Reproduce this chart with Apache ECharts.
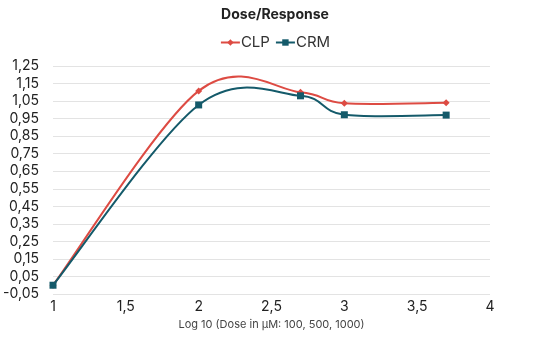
<!DOCTYPE html>
<html><head><meta charset="utf-8">
<script src="https://cdn.jsdelivr.net/npm/echarts@6/dist/echarts.min.js"></script>
<style>html,body{margin:0;padding:0;background:#fff}#c{width:550px;height:342px}</style>
</head><body><div id="c"></div>
<script>
const doseLog = [1, 2, 2.699, 3, 3.699];
const clp = [0.0, 1.108, 1.10, 1.037, 1.04];
const crm = [0.0, 1.028, 1.08, 0.972, 0.97];
const seriesNames = ['CLP', 'CRM'];
const colors = ['#DD4B43', '#145A6A'];
const fmt = v => (Math.round(v * 100) / 100).toFixed(2).replace('.', ',');
const fmtX = v => String(Math.round(v * 10) / 10).replace('.', ',');
const font = 'Inter, "Liberation Sans", sans-serif';

// Excel-style smoothed line (Catmull-Rom Bezier) drawn through the axis scales
function smoothRenderer(ys, color) {
  return function (params, api) {
    if (params.dataIndex !== 0) return null;
    const pts = doseLog.map((x, i) => api.coord([x, ys[i]]));
    const n = pts.length;
    let d = 'M' + pts[0][0] + ' ' + pts[0][1];
    for (let i = 0; i < n - 1; i++) {
      const p0 = pts[Math.max(0, i - 1)], p1 = pts[i], p2 = pts[i + 1], p3 = pts[Math.min(n - 1, i + 2)];
      const c1 = [p1[0] + (p2[0] - p0[0]) / 6, p1[1] + (p2[1] - p0[1]) / 6];
      const c2 = [p2[0] - (p3[0] - p1[0]) / 6, p2[1] - (p3[1] - p1[1]) / 6];
      d += ' C' + c1[0] + ' ' + c1[1] + ' ' + c2[0] + ' ' + c2[1] + ' ' + p2[0] + ' ' + p2[1];
    }
    return {
      type: 'path',
      shape: { pathData: d },
      style: { stroke: color, lineWidth: 2, fill: null }
    };
  };
}

const chart = echarts.init(document.getElementById('c'));
chart.setOption({
  animation: false,
  title: { text: 'Dose/Response', left: 'center', top: 3,
    textStyle: { fontFamily: font, fontSize: 14, fontWeight: 'bold', color: '#222' } },
  legend: { top: 30, left: 'center', itemWidth: 19, itemHeight: 8, itemGap: 5,
    textStyle: { fontFamily: font, fontSize: 15, color: '#333', padding: [0, 0, 0, -4] },
    lineStyle: { opacity: 1, width: 2 },
    data: seriesNames },
  grid: { left: 53, right: 60, top: 66, bottom: 48 },
  xAxis: { type: 'value', min: 1, max: 4, interval: 0.5,
    name: 'Log 10 (Dose in µM: 100, 500, 1000)', nameLocation: 'middle', nameGap: 22,
    nameTextStyle: { fontFamily: font, fontSize: 11, color: '#444' },
    axisLine: { show: false }, axisTick: { show: false }, splitLine: { show: false },
    axisLabel: { fontFamily: font, fontSize: 14, color: '#222', margin: 6, formatter: fmtX } },
  yAxis: { type: 'value', min: -0.05, max: 1.25, interval: 0.1,
    axisLine: { show: false }, axisTick: { show: false },
    splitLine: { lineStyle: { color: '#e3e3e3', width: 1 } },
    axisLabel: { fontFamily: font, fontSize: 14, color: '#222', margin: 14, formatter: fmt } },
  series: [
    { name: seriesNames[0], type: 'line', symbol: 'diamond', symbolSize: 7, z: 5,
      data: doseLog.map((x, i) => [x, clp[i]]),
      itemStyle: { color: colors[0] }, lineStyle: { color: colors[0], width: 2, opacity: 0 } },
    { name: seriesNames[1], type: 'line', symbol: 'rect', symbolSize: 7, z: 5,
      data: doseLog.map((x, i) => [x, crm[i]]),
      itemStyle: { color: colors[1] }, lineStyle: { color: colors[1], width: 2, opacity: 0 } },
    { type: 'custom', z: 3, renderItem: smoothRenderer(clp, colors[0]),
      data: doseLog.map((x, i) => [x, clp[i]]), encode: { x: 0, y: 1 } },
    { type: 'custom', z: 3, renderItem: smoothRenderer(crm, colors[1]),
      data: doseLog.map((x, i) => [x, crm[i]]), encode: { x: 0, y: 1 } }
  ]
});
</script></body></html>
